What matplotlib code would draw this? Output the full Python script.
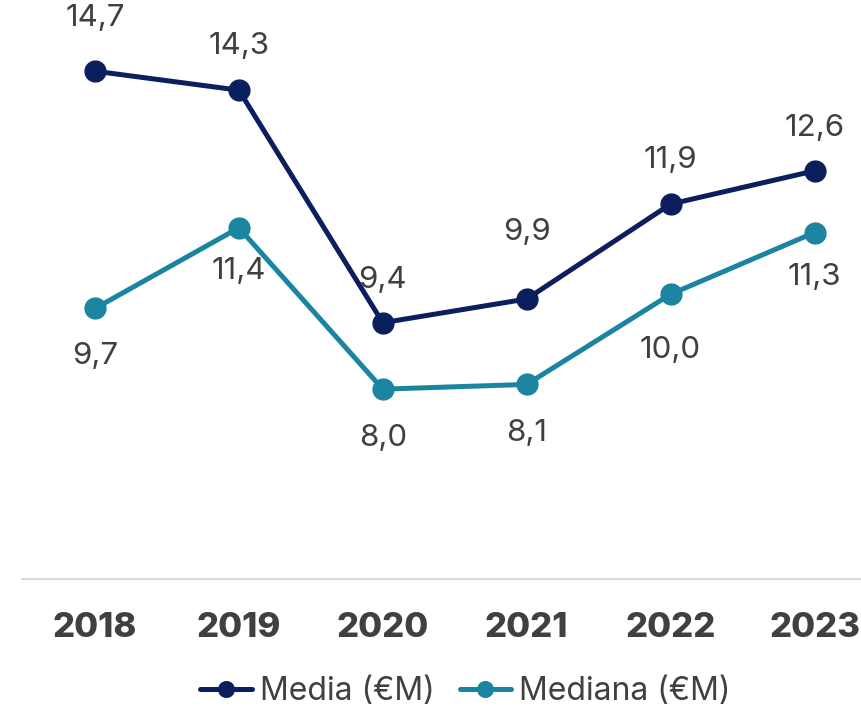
import matplotlib
matplotlib.use("Agg")
import matplotlib.pyplot as plt

plt.rcParams["font.family"] = ["Inter", "DejaVu Sans"]

years = ["2018", "2019", "2020", "2021", "2022", "2023"]
media = [14.7, 14.3, 9.4, 9.9, 11.9, 12.6]
mediana = [9.7, 11.4, 8.0, 8.1, 10.0, 11.3]

# label offsets in points (Media above, Mediana below)
media_off = [38, 32, 31, 48, 32, 31]
mediana_off = [-34, -31, -35, -35, -40, -32]

NAVY = "#0b1f5e"
TEAL = "#1a84a1"
GREY = "#404040"

W, H = 862, 708
fig = plt.figure(figsize=(W / 100, H / 100), dpi=100)
ax = fig.add_axes([22 / W, 1 - 579 / H, 1 - 22 / W, 579 / H])

x = list(range(len(years)))
ax.plot(x, media, color=NAVY, lw=3.6, marker="o", ms=15,
        label="Media (€M)", solid_capstyle="round", zorder=3)
ax.plot(x, mediana, color=TEAL, lw=3.6, marker="o", ms=15,
        label="Mediana (€M)", solid_capstyle="round", zorder=3)

for xi, v, o in zip(x, media, media_off):
    ax.annotate(f"{v:.1f}".replace(".", ","), (xi, v), xytext=(0, o),
                textcoords="offset points", ha="center", va="center",
                fontsize=22.5, color=GREY)
for xi, v, o in zip(x, mediana, mediana_off):
    ax.annotate(f"{v:.1f}".replace(".", ","), (xi, v), xytext=(0, o),
                textcoords="offset points", ha="center", va="center",
                fontsize=22.5, color=GREY)

ax.set_xlim(-0.507, 5.33)
ax.set_ylim(4.0, 16.2)
ax.set_xticks(x)
ax.set_xticklabels(years, fontsize=25, fontweight="heavy", color=GREY)
ax.tick_params(axis="x", length=0, pad=24)
ax.set_yticks([])
for s in ["top", "right", "left"]:
    ax.spines[s].set_visible(False)
ax.spines["bottom"].set_color("#d9d9d9")
ax.spines["bottom"].set_linewidth(1.5)

fig.legend(loc="center", bbox_to_anchor=(0.54, 1 - 692 / H), ncol=2,
           frameon=False, fontsize=23, labelcolor=GREY, handlelength=1.6,
           handletextpad=0.25, columnspacing=0.8, markerscale=0.75)

fig.savefig("out.png", dpi=100, facecolor="white")
